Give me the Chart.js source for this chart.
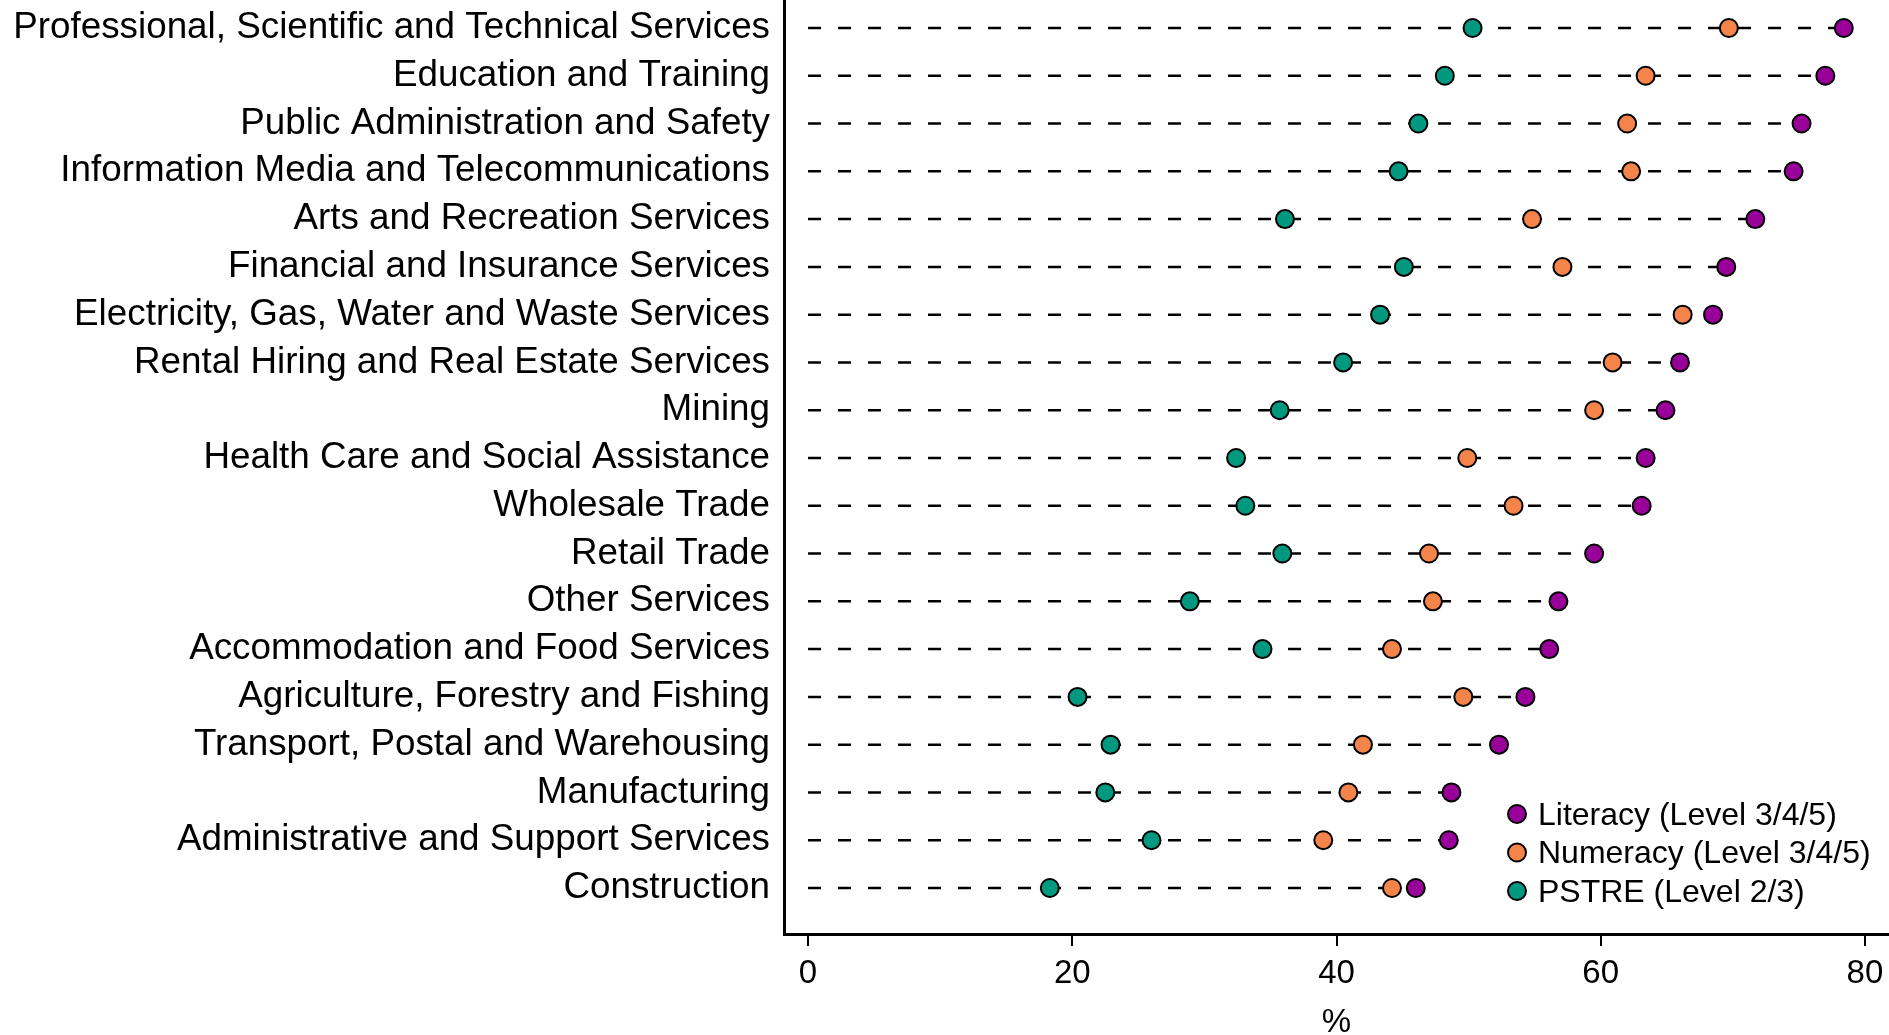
<!DOCTYPE html>
<html>
<head>
<meta charset="utf-8">
<script src="https://cdn.jsdelivr.net/npm/chart.js@4.4.1/dist/chart.umd.min.js"></script>
<style>
html,body{margin:0;padding:0;background:#fff;}
#wrap{width:1889px;height:1035px;position:relative;}
</style>
</head>
<body>
<div id="wrap"><canvas id="chart"></canvas></div>
<script>
var industries=[
    'Professional, Scientific and Technical Services',
    'Education and Training',
    'Public Administration and Safety',
    'Information Media and Telecommunications',
    'Arts and Recreation Services',
    'Financial and Insurance Services',
    'Electricity, Gas, Water and Waste Services',
    'Rental Hiring and Real Estate Services',
    'Mining',
    'Health Care and Social Assistance',
    'Wholesale Trade',
    'Retail Trade',
    'Other Services',
    'Accommodation and Food Services',
    'Agriculture, Forestry and Fishing',
    'Transport, Postal and Warehousing',
    'Manufacturing',
    'Administrative and Support Services',
    'Construction'
];
var literacy=[78.4,77.0,75.2,74.6,71.7,69.5,68.5,66.0,64.9,63.4,63.1,59.5,56.8,56.1,54.3,52.3,48.7,48.5,46.0];
var numeracy=[69.7,63.4,62.0,62.3,54.8,57.1,66.2,60.9,59.5,49.9,53.4,47.0,47.3,44.2,49.6,42.0,40.9,39.0,44.2];
var pstre=[50.3,48.2,46.2,44.7,36.1,45.1,43.3,40.5,35.7,32.4,33.1,35.9,28.9,34.4,20.4,22.9,22.5,26.0,18.3];
var seriesNames=['Literacy (Level 3/4/5)','Numeracy (Level 3/4/5)','PSTRE (Level 2/3)'];
var seriesColors=['#990099','#f5844a','#00997f'];
var xTicks=[0,20,40,60,80];

var FONT='"Liberation Sans", Arial, sans-serif';
Chart.defaults.font.family=FONT;
Chart.defaults.color='#000';

function points(values){
    return values.map(function(v,i){return {x:v,y:i};});
}

var datasets=[literacy,numeracy,pstre].map(function(values,k){
    return {
        label:seriesNames[k],
        data:points(values),
        backgroundColor:seriesColors[k],
        borderColor:'#000',
        borderWidth:2,
        pointRadius:9,
        pointHoverRadius:9,
        order:1
    };
});

// dashed guide from 0 to the highest value of each row
industries.forEach(function(name,i){
    datasets.push({
        label:name,
        data:[{x:0,y:i},{x:Math.max(literacy[i],numeracy[i],pstre[i]),y:i}],
        showLine:true,
        borderColor:'#000',
        borderWidth:2.5,
        borderDash:[13,17],
        pointRadius:0,
        order:10
    });
});

// legend sits inside the plot, bottom right
var dotLegend={
    id:'dotLegend',
    afterDatasetsDraw:function(chart){
        var ctx=chart.ctx,a=chart.chartArea;
        var x=a.right-372,y=a.bottom-120;
        ctx.save();
        ctx.font='32px '+FONT;
        ctx.textBaseline='middle';
        ctx.textAlign='left';
        chart.data.datasets.forEach(function(ds){
            if(ds.showLine) return;
            ctx.beginPath();
            ctx.arc(x,y,9,0,Math.PI*2);
            ctx.fillStyle=ds.backgroundColor;
            ctx.fill();
            ctx.lineWidth=2;
            ctx.strokeStyle='#000';
            ctx.stroke();
            ctx.fillStyle='#000';
            ctx.fillText(ds.label,x+21,y+2);
            y+=38.5;
        });
        ctx.restore();
    }
};

new Chart(document.getElementById('chart'),{
    type:'scatter',
    data:{datasets:datasets},
    options:{
        responsive:true,
        maintainAspectRatio:false,
        animation:false,
        layout:{padding:0,autoPadding:false},
        plugins:{
            legend:{display:false},
            tooltip:{enabled:false}
        },
        scales:{
            x:{
                type:'linear',
                min:-1.82,
                max:81.82,
                afterBuildTicks:function(scale){
                    scale.ticks=xTicks.map(function(v){return {value:v};});
                },
                afterFit:function(scale){
                    scale.height=101;
                    scale.paddingLeft=0;
                    scale.paddingRight=0;
                },
                grid:{display:true,drawOnChartArea:false,drawTicks:true,tickLength:12,color:'#000',lineWidth:2},
                border:{display:true,color:'#000',width:3},
                ticks:{font:{size:33},padding:8,color:'#000'},
                title:{display:true,text:'%',font:{size:33,lineHeight:0.75},padding:{top:0,bottom:0},color:'#000'}
            },
            y:{
                type:'linear',
                reverse:true,
                min:-0.586,
                max:18.963,
                afterBuildTicks:function(scale){
                    scale.ticks=industries.map(function(_,i){return {value:i};});
                },
                afterFit:function(scale){
                    scale.width=784;
                    scale.paddingTop=0;
                    scale.paddingBottom=0;
                },
                grid:{display:false,drawTicks:false},
                border:{display:true,color:'#000',width:3},
                ticks:{
                    font:{size:36.8},
                    padding:14,
                    color:'#000',
                    callback:function(v){return industries[v];}
                }
            }
        }
    },
    plugins:[dotLegend]
});
</script>
</body>
</html>
